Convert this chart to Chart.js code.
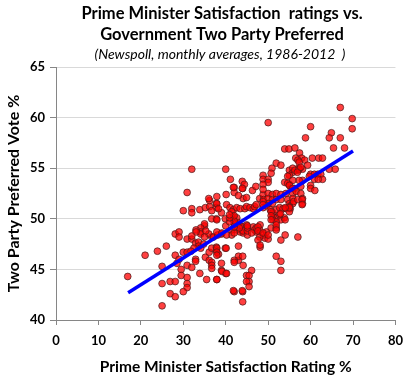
<!DOCTYPE html>
<html><head><meta charset="utf-8">
<script src="https://cdn.jsdelivr.net/npm/chart.js@4/dist/chart.umd.min.js"></script>
<style>html,body{margin:0;padding:0;background:#fff;} #wrap{width:411px;height:381px;}</style>
</head><body><div id="wrap"><canvas id="c" width="411" height="381"></canvas></div>
<script>
const titleLines = ['Prime Minister Satisfaction  ratings vs.', 'Government Two Party Preferred'];
const subtitleText = '(Newspoll, monthly averages, 1986-2012  )';
const xAxisTitle = 'Prime Minister Satisfaction Rating %';
const yAxisTitle = 'Two Party Preferred Vote %';
const xTicks = [0, 10, 20, 30, 40, 50, 60, 70, 80];
const yTicks = [40, 45, 50, 55, 60, 65];

// PM satisfaction rating (%) for each monthly average
const pmSatisfaction = [
16.9,21.0,23.9,26.0,25.0,25.0,25.0,26.9,28.1,26.9,28.1,28.1,29.0,29.0,28.1,28.5,29.0,29.5,29.5,30.0,
30.9,30.9,32.0,30.9,30.9,30.9,30.0,30.0,32.0,32.0,33.9,30.9,32.0,32.9,32.9,32.9,33.9,35.5,37.9,39.0,
40.0,35.2,36.1,36.1,36.7,37.8,37.8,38.3,39.9,39.0,36.7,36.0,35.0,35.0,34.1,34.1,34.1,33.0,33.0,32.0,
35.2,36.2,36.2,37.8,37.8,39.0,36.7,39.9,37.8,36.7,
35.3,33.6,33.6,34.1,34.8,32.5,31.8,35.0,37.1,38.1,
37.9,40.1,42.0,42.0,44.0,44.1,44.9,46.3,47.1,48.0,48.8,48.9,50.0,50.0,51.0,51.0,51.0,50.0,51.9,51.9,
53.0,53.0,54.2,54.6,55.0,55.4,37.9,38.3,40.2,41.0,41.8,42.6,43.4,44.5,44.9,45.7,46.5,46.8,47.2,48.8,
49.6,50.5,51.1,51.9,52.7,53.5,54.2,55.2,51.1,51.9,53.0,53.8,52.7,37.9,41.4,41.8,42.6,41.8,43.0,43.4,
44.0,44.9,42.6,43.4,44.1,41.4,41.4,46.5,46.8,47.2,48.0,48.8,49.2,48.0,49.6,50.7,37.9,39.1,40.2,51.9,
51.1,53.0,51.9,53.0,53.0,46.1,44.9,45.5,45.5,44.9,45.5,44.0,42.0,44.0,43.0,43.0,43.0,44.0,44.1,40.1,
37.9,37.9,37.9,37.9,39.1,40.2,
67.0,69.8,69.8,50.0,60.0,64.9,64.4,67.0,58.8,65.4,68.0,53.9,54.9,56.3,57.4,56.5,57.9,58.6,60.4,61.9,
62.8,51.9,50.9,50.7,53.0,55.0,55.8,57.0,57.2,58.1,59.3,60.0,60.9,61.7,62.4,64.4,65.8,60.9,62.8,55.0,
55.0,53.9,48.8,48.8,50.0,50.0,48.8,48.8,40.0,41.1,43.9,44.4,43.9,41.8,43.0,36.0,32.0,30.9,
55.8,56.3,57.3,56.9,61.8,60.0,59.7,57.0,57.3,57.7,54.6,54.6,56.2,57.7,58.1,57.3,55.8,
55.0,55.8,55.8,55.8,55.8,55.0,55.0,56.6,57.7,58.1,58.1,60.0,61.0,57.0,
44.1,43.2,45.1,45.1,45.1,45.1,42.0,42.0,42.0,42.0,42.0,40.0,40.9,40.9,40.9,47.2,48.1,47.6,46.1,47.6,
48.8,50.0,50.0,47.6,48.1,48.1,42.0,42.0,39.0,36.7,36.7,36.7,43.9,41.8,54.0,
55.0,56.0,57.0,58.0,58.0,54.0,54.0,52.9,51.9,51.9,51.9,50.7,50.7,50.7,48.8,48.8
];
// Government two-party preferred vote (%) for the same months
const govTPP = [
44.3,46.4,46.8,47.3,45.3,43.6,41.4,43.8,43.8,42.6,42.3,48.5,48.7,48.2,46.4,45.6,46.0,45.0,44.4,46.7,
46.7,45.4,45.2,44.2,43.6,43.2,42.8,50.8,51.0,50.6,50.9,48.0,48.0,47.6,46.0,45.8,44.6,44.0,44.0,44.9,
44.6,46.2,45.9,46.7,47.1,47.2,46.9,46.5,47.1,48.5,48.2,48.5,49.3,49.5,49.1,48.7,48.5,48.9,48.7,48.3,
51.1,51.2,51.8,51.5,51.1,50.6,50.8,50.0,50.0,50.0,
48.8,47.7,47.3,47.1,47.5,47.1,46.8,48.2,48.2,48.4,
52.2,52.4,53.1,52.6,53.0,52.0,52.1,52.8,53.2,52.0,52.4,51.9,52.5,52.0,52.4,51.9,51.5,51.5,52.5,51.9,
52.4,51.9,52.5,51.9,51.5,53.0,51.5,51.0,51.4,51.1,50.9,51.1,51.0,51.0,51.2,51.1,51.0,51.2,51.4,51.1,
51.3,50.9,50.6,50.9,51.1,51.0,51.0,51.0,50.2,50.1,49.9,50.1,50.4,49.9,50.7,50.2,50.1,49.9,49.6,49.3,
49.2,49.4,48.9,48.7,48.6,48.9,48.4,49.2,48.9,48.7,48.9,48.4,48.1,48.2,48.7,49.1,48.7,48.6,48.4,49.1,
49.9,47.9,46.3,45.8,44.9,44.9,44.4,44.4,43.8,43.8,43.3,42.8,42.8,41.8,47.3,45.9,46.3,46.3,45.4,47.1,
47.1,46.7,46.4,44.0,44.8,44.6,
61.0,59.9,58.9,59.5,59.1,58.5,58.0,58.0,58.0,57.0,57.0,56.9,56.9,57.0,56.5,56.0,56.0,55.8,56.0,56.0,
56.0,55.5,55.0,54.5,55.3,54.8,54.6,54.8,55.0,54.9,55.3,54.4,54.4,54.4,54.4,54.9,54.9,53.9,53.9,54.3,
53.4,53.6,54.3,53.9,53.9,53.6,53.4,52.9,54.9,53.9,53.7,53.4,53.0,53.1,52.3,52.0,54.9,52.6,
55.0,54.8,54.9,54.6,53.9,53.3,54.2,55.8,55.6,55.1,54.2,53.5,53.0,53.2,53.8,53.8,53.8,
53.3,53.0,52.5,52.0,51.5,51.2,50.7,52.7,52.5,52.0,51.5,53.0,52.8,48.2,
48.8,49.1,48.4,48.8,49.1,49.3,48.6,49.2,49.5,49.8,50.3,49.3,49.7,50.1,50.4,49.1,49.4,49.2,48.6,48.8,
48.6,48.0,48.4,47.9,47.2,47.4,45.9,45.7,45.6,45.7,45.4,45.1,42.9,42.9,48.4,
51.1,51.7,51.9,51.9,51.4,51.1,49.9,50.5,49.7,49.4,48.9,50.7,50.3,49.9,51.7,51.4
];
// Least-squares trend line end points
const trendX = [17, 70];
const trendY = [42.7, 56.7];

const FONT = 'Lato, "Open Sans", sans-serif';

const headerPlugin = {
  id: 'header',
  afterDraw(chart) {
    const c = chart.ctx;
    c.save();
    c.fillStyle = '#000';
    c.textAlign = 'center';
    c.textBaseline = 'middle';
    c.font = 'bold 16.5px ' + FONT;
    c.fillText(titleLines[0], 222, 14);
    c.fillText(titleLines[1], 222, 35);
    c.font = 'italic 14px ' + FONT;
    c.fillText(subtitleText, 220, 54);
    c.restore();
  }
};

new Chart(document.getElementById('c'), {
  type: 'scatter',
  data: {
    datasets: [
      {
        type: 'line',
        data: trendX.map((x, i) => ({x: x, y: trendY[i]})),
        borderColor: '#0000ff',
        borderWidth: 3.5,
        pointRadius: 0,
        fill: false,
        order: 0
      },
      {
        data: pmSatisfaction.map((x, i) => ({x: x, y: govTPP[i]})),
        backgroundColor: 'rgba(255,0,0,0.75)',
        borderColor: 'rgba(70,25,25,0.7)',
        borderWidth: 1,
        pointRadius: 3.4,
        order: 1
      }
    ]
  },
  options: {
    responsive: false,
    animation: false,
    devicePixelRatio: 1,
    layout: {padding: {top: 67, right: 12, left: 0, bottom: 0}},
    plugins: {legend: {display: false}, tooltip: {enabled: false}, title: {display: false}},
    scales: {
      x: {
        type: 'linear', min: 0, max: 80,
        afterBuildTicks: s => { s.ticks = xTicks.map(v => ({value: v})); },
        ticks: {font: {family: FONT, weight: 'bold', size: 13}, color: '#000', padding: 8},
        grid: {drawOnChartArea: false, drawTicks: true, tickLength: 5, tickColor: '#868686'},
        border: {color: '#868686', width: 1},
        title: {display: true, text: xAxisTitle, color: '#000', font: {family: FONT, weight: 'bold', size: 15.5}, padding: {top: 6, bottom: 5}},
        afterFit: s => { s.height = 61; }
      },
      y: {
        type: 'linear', min: 40, max: 65,
        afterBuildTicks: s => { s.ticks = yTicks.map(v => ({value: v})); },
        ticks: {font: {family: FONT, weight: 'bold', size: 13}, color: '#000', padding: 5},
        grid: {color: '#d9d9d9', tickColor: '#868686', tickLength: 6, drawTicks: true},
        border: {color: '#868686', width: 1},
        title: {display: true, text: yAxisTitle, color: '#000', font: {family: FONT, weight: 'bold', size: 16}, padding: {top: 4, bottom: 4}},
        afterFit: s => { s.width = 56; }
      }
    }
  },
  plugins: [headerPlugin]
});
</script>
</body></html>
